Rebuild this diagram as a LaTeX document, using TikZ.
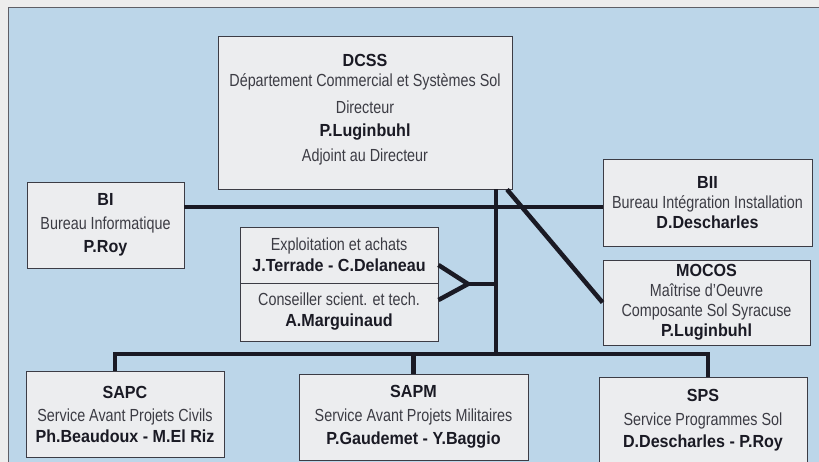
\documentclass[tikz,border=0pt]{standalone}
\usepackage{fontspec}
\setmainfont{Liberation Sans}[FakeStretch=0.82,BoldFeatures={FakeStretch=0.92}]
\usepackage{tikz}
\usetikzlibrary{calc}
\definecolor{bgblue}{RGB}{188,214,233}
\definecolor{boxgrey}{RGB}{236,237,239}
\definecolor{txtgrey}{RGB}{60,60,68}
\definecolor{inkdark}{RGB}{26,26,36}
\newcommand{\hd}[1]{{\bfseries\color{inkdark}#1}}
\begin{document}
\begin{tikzpicture}[x=1pt,y=-1pt,
  orgbox/.style={draw=inkdark!85,line width=0.9pt,fill=boxgrey,text=txtgrey,align=center,inner sep=0pt,font=\fontsize{17.5}{21.5}\selectfont},
  link/.style={draw=inkdark,line width=4.5pt,line join=miter}]
\useasboundingbox (0,0) rectangle (819,462);
\fill[black!7] (0,0) rectangle (819,462);
\fill[bgblue] (8,7) rectangle (819,462);
\draw[inkdark!70,line width=0.8pt] (8,462) -- (8,7) -- (819,7);
% boxes
\node[orgbox,minimum width=294pt,minimum height=153pt](dcss)at(365,112.5){\hd{DCSS}\\[-1.5pt]D\'epartement Commercial et Syst\`emes Sol\\[5.5pt]Directeur\\[1.5pt]\hd{P.Luginbuhl}\\[3.5pt]Adjoint au Directeur\\[-11.5pt]\mbox{}};
\node[orgbox,minimum width=157pt,minimum height=86pt](bi)at(105.5,225){\hd{BI}\\[2pt]Bureau Informatique\\[2pt]\hd{P.Roy}};
\node[orgbox,minimum width=209pt,minimum height=87pt](bii)at(707.5,202.5){\hd{BII}\\[-1.5pt]Bureau Int\'egration Installation\\[-1.5pt]\hd{D.Descharles}};
\node[orgbox,minimum width=198pt,minimum height=56pt](expl)at(339,255){Exploitation et achats\\[-0.5pt]\hd{J.Terrade - C.Delaneau}};
\node[orgbox,minimum width=198pt,minimum height=58pt](cons)at(339,312){Conseiller scient. et tech.\\[-0.5pt]\hd{A.Marguinaud}};
\node[orgbox,minimum width=207pt,minimum height=85pt](mocos)at(706.5,302.5){\hd{MOCOS}\\[-1.5pt]Ma\^itrise d'Oeuvre\\[-1.5pt]Composante Sol Syracuse\\[-1.5pt]\hd{P.Luginbuhl}};
\node[orgbox,minimum width=198pt,minimum height=86pt](sapc)at(125,414){\hd{SAPC}\\[1.5pt]Service Avant Projets Civils\\[-0.5pt]\hd{Ph.Beaudoux - M.El Riz}};
\node[orgbox,minimum width=229pt,minimum height=86pt](sapm)at(413.5,417){\hd{SAPM}\\[2.5pt]Service Avant Projets Militaires\\[1.5pt]\hd{P.Gaudemet - Y.Baggio}};
\node[orgbox,minimum width=208pt,minimum height=86pt](sps)at(703,420){\hd{SPS}\\[2pt]Service Programmes Sol\\[0.5pt]\hd{D.Descharles - P.Roy}};
% connectors
\coordinate(bus)at(496,354);
\coordinate(hline)at(496,207);
\coordinate(fork)at(468,284);
\draw[link](dcss.south -| bus)--(bus);
\draw[link](bi.east |- hline)--(bii.west |- hline);
\draw[link]([xshift=-10pt]sapc.north)|-([xshift=5pt]sps.north |- bus)--([xshift=5pt]sps.north);
\draw[link](sapm.north)--(sapm.north |- bus);
\draw[link]([xshift=142pt]dcss.south)--(mocos.west);
\draw[link]([yshift=-10pt]expl.east)--(fork)--([yshift=12pt]cons.east);
\draw[link](fork)--(fork -| bus);
\end{tikzpicture}
\end{document}
